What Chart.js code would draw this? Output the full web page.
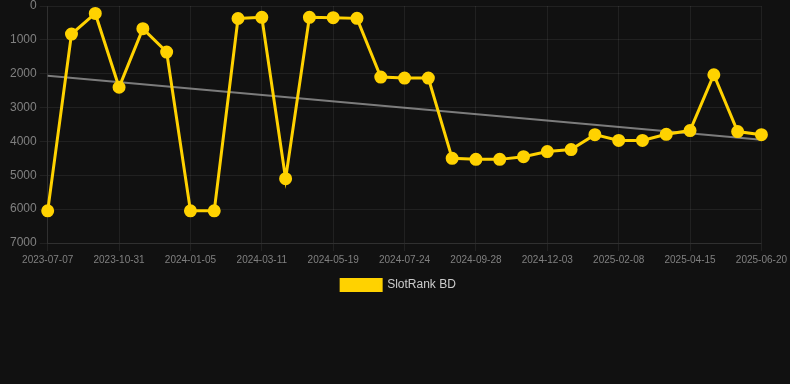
<!DOCTYPE html>
<html lang="en">
<head>
    <meta charset="UTF-8">
    <title>SlotRank BD</title>
    <style>
        html, body {
            margin: 0;
            padding: 0;
            background: #111111;
        }
        .wrap {
            position: relative;
            width: 790px;
            height: 303px;
        }
    </style>
    <script src="https://cdn.jsdelivr.net/npm/chart.js"></script>
</head>
<body>
    <div class="wrap">
        <canvas id="rankChart"></canvas>
    </div>

    <script>
        // Dates (every third one is shown on the axis)
        const dates = [
            '2023-07-07', '2023-08-15', '2023-09-22', '2023-10-31', '2023-11-22', '2023-12-14',
            '2024-01-05', '2024-01-27', '2024-02-18', '2024-03-11', '2024-04-03', '2024-04-26',
            '2024-05-19', '2024-06-10', '2024-07-02', '2024-07-24', '2024-08-15', '2024-09-06',
            '2024-09-28', '2024-10-20', '2024-11-11', '2024-12-03', '2024-12-25', '2025-01-17',
            '2025-02-08', '2025-03-02', '2025-03-24', '2025-04-15', '2025-05-07', '2025-05-29',
            '2025-06-20'
        ];

        // Rank values
        const ranks = [
            6050, 830, 220, 2400, 670, 1360,
            6050, 6050, 370, 335, 5100, 335,
            345, 365, 2100, 2130, 2130, 4500,
            4530, 4530, 4450, 4300, 4240, 3800,
            3970, 3970, 3790, 3680, 2030, 3710,
            3800
        ];

        // Trend line end points (first and last date)
        const trendEnds = [2060, 3950];

        const yTicks = [0, 1000, 2000, 3000, 4000, 5000, 6000, 7000];

        const trend = dates.map((d, i) => i === 0 ? trendEnds[0] : (i === dates.length - 1 ? trendEnds[1] : null));

        const gold = '#FFD200';
        const gridColor = 'rgba(255,255,255,0.07)';

        const ctx = document.getElementById('rankChart').getContext('2d');
        const rankChart = new Chart(ctx, {
            type: 'line',
            data: {
                labels: dates,
                datasets: [{
                    label: 'SlotRank BD',
                    data: ranks,
                    borderColor: gold,
                    backgroundColor: gold,
                    borderWidth: 3,
                    pointRadius: 5,
                    pointHoverRadius: 6,
                    pointBackgroundColor: gold,
                    pointBorderColor: gold,
                    tension: 0,
                    clip: false,
                    order: 1
                }, {
                    label: 'Trend',
                    data: trend,
                    borderColor: 'rgba(160,160,160,0.75)',
                    borderWidth: 2,
                    pointRadius: 0,
                    spanGaps: true,
                    fill: false,
                    order: 2
                }]
            },
            options: {
                responsive: true,
                maintainAspectRatio: false,
                animation: false,
                layout: { autoPadding: false, padding: { left: 7, top: 0, bottom: 2 } },
                scales: {
                    x: {
                        grid: {
                            color: (c) => (c.index % 3 === 0 ? gridColor : 'transparent')
                        },
                        border: { color: gridColor },
                        ticks: {
                            autoSkip: false,
                            maxRotation: 0,
                            minRotation: 0,
                            color: '#808080',
                            font: { family: 'Liberation Sans, Arial, sans-serif', size: 10 },
                            callback: function (value, index) {
                                return index % 3 === 0 ? this.getLabelForValue(value) : '';
                            }
                        }
                    },
                    y: {
                        reverse: true,
                        min: yTicks[0],
                        max: yTicks[yTicks.length - 1],
                        grid: { color: gridColor },
                        border: { color: gridColor },
                        ticks: {
                            stepSize: 1000,
                            color: '#808080',
                            font: { family: 'Liberation Sans, Arial, sans-serif', size: 12, lineHeight: 0.5 },
                            callback: (value) => String(value)
                        }
                    }
                },
                plugins: {
                    legend: {
                        position: 'bottom',
                        labels: {
                            color: '#cccccc',
                            boxWidth: 40,
                            boxHeight: 11,
                            font: { family: 'Liberation Sans, Arial, sans-serif', size: 12 },
                            filter: (item) => item.text === 'SlotRank BD'
                        }
                    },
                    tooltip: { enabled: false }
                }
            }
        });
    </script>
</body>
</html>
